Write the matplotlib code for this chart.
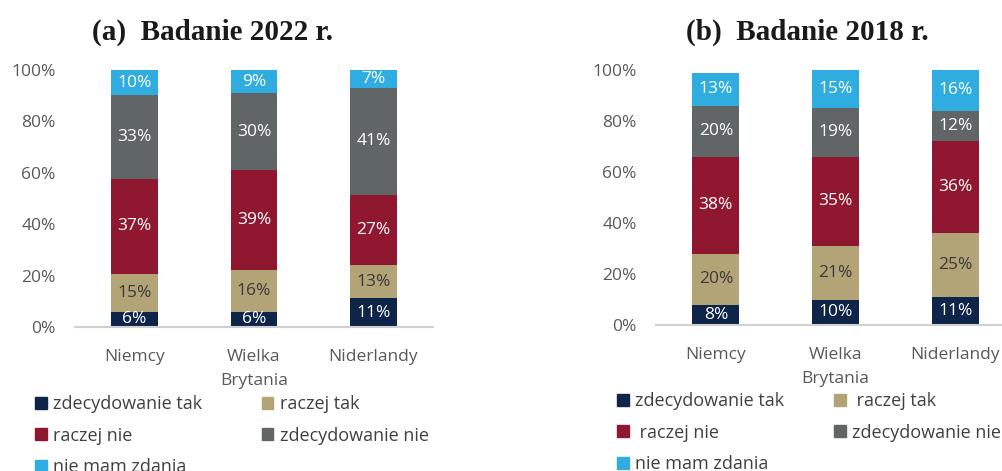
import matplotlib
matplotlib.use('Agg')
import matplotlib.pyplot as plt
from matplotlib.patches import Patch
import numpy as np

plt.rcParams['font.family'] = ['Open Sans', 'DejaVu Sans']

countries = ['Niemcy', 'Wielka\nBrytania', 'Niderlandy']
answers = ['zdecydowanie tak', 'raczej tak', 'raczej nie', 'zdecydowanie nie', 'nie mam zdania']

# survey 2022 (percent) - drawn as 100% stacked
s2022_zt = [6, 6, 11]
s2022_rt = [15, 16, 13]
s2022_rn = [37, 39, 27]
s2022_zn = [33, 30, 41]
s2022_nmz = [10, 9, 7]

# survey 2018 (percent) - drawn as is
s2018_zt = [8, 10, 11]
s2018_rt = [20, 21, 25]
s2018_rn = [38, 35, 36]
s2018_zn = [20, 19, 12]
s2018_nmz = [13, 15, 16]

colors = ['#0e2448', '#b2a477', '#8f1830', '#606666', '#2fade1']
txt_colors = ['white', '#3a3a3a', 'white', 'white', 'white']
tick_col = '#595959'

fig = plt.figure(figsize=(10.03, 4.71), dpi=100)
W, H = 1003.0, 471.0

def panel(rect, series, title, tx, legend_labels, leg_xy, colsp, normalize=False):
    ax = fig.add_axes(rect)
    x = np.arange(len(countries))
    data = np.array(series, dtype=float)
    heights = data / data.sum(axis=0) * 100 if normalize else data
    bottom = np.zeros(len(countries))
    for vals, hts, c, tc in zip(data, heights, colors, txt_colors):
        ax.bar(x, hts, 0.39, bottom=bottom, color=c, zorder=2)
        for xi, b, v, h in zip(x, bottom, vals, hts):
            ax.text(xi, b + h / 2, '%d%%' % v, ha='center', va='center',
                    color=tc, fontsize=12.5, clip_on=True, zorder=3)
        bottom += hts
    ax.set_xlim(-0.5, 2.5)
    ax.set_ylim(0, 100)
    ax.set_yticks(range(0, 101, 20))
    ax.set_yticklabels(['%d%%' % t for t in range(0, 101, 20)])
    ax.set_xticks(x)
    ax.set_xticklabels(countries, linespacing=1.65)
    for s in ['top', 'right', 'left']:
        ax.spines[s].set_visible(False)
    ax.spines['bottom'].set_color('#d0d0d0')
    ax.spines['bottom'].set_linewidth(1.5)
    ax.spines['bottom'].set_zorder(4)
    ax.tick_params(axis='both', length=0, labelsize=12.5, colors=tick_col)
    ax.tick_params(axis='x', pad=16)
    ax.tick_params(axis='y', pad=14)
    fig.text(tx / W, 1 - 32 / H, title, ha='center', va='center',
             fontsize=21, fontweight='bold', family='Liberation Serif', color='#1a1a1a')
    handles = [Patch(color=colors[i]) for i in [0, 2, 4, 1, 3]]
    labels = [legend_labels[i] for i in [0, 2, 4, 1, 3]]
    fig.legend(handles, labels, ncol=2, loc='upper left',
               bbox_to_anchor=(leg_xy[0] / W, 1 - leg_xy[1] / H),
               frameon=False, fontsize=13, handlelength=0.65, handleheight=0.65,
               handletextpad=0.35, labelspacing=0.75, columnspacing=colsp,
               borderpad=0, borderaxespad=0, labelcolor='#404040')
    return ax

panel([75 / W, 1 - 327 / H, 358 / W, 257 / H],
      [s2022_zt, s2022_rt, s2022_rn, s2022_zn, s2022_nmz],
      '(a)  Badanie 2022 r.', 213, answers, (35, 395), 3.3, normalize=True)

answers_b = ['zdecydowanie tak', ' raczej tak', ' raczej nie', 'zdecydowanie nie', 'nie mam zdania']
panel([656 / W, 1 - 325 / H, 359 / W, 255 / H],
      [s2018_zt, s2018_rt, s2018_rn, s2018_zn, s2018_nmz],
      '(b)  Badanie 2018 r.', 807, answers_b, (617, 392), 2.75)

fig.savefig('out.png', dpi=100)
